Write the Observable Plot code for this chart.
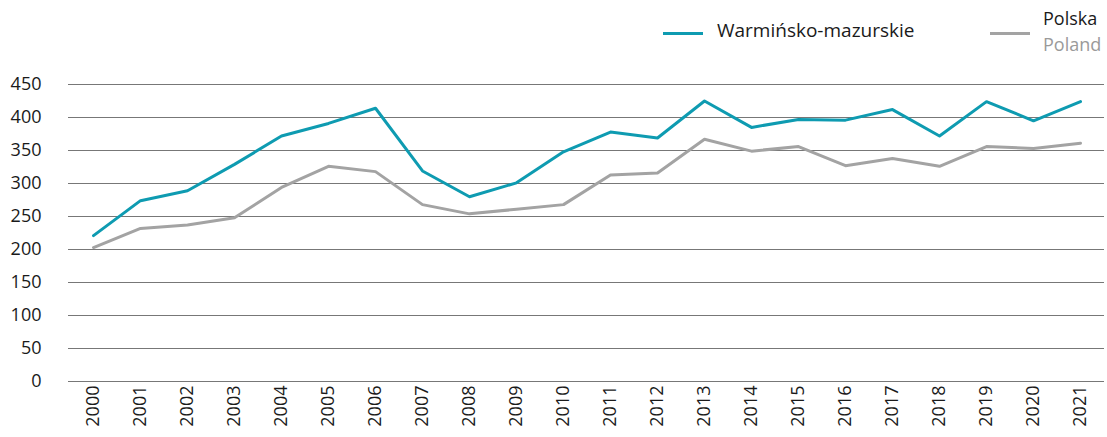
<!DOCTYPE html>
<html>
<head>
<meta charset="utf-8">
<script src="https://cdn.jsdelivr.net/npm/d3@7"></script>
<script src="https://cdn.jsdelivr.net/npm/@observablehq/plot@0.6"></script>
<style>
  body { margin: 0; background: #fff; font-family: "Open Sans", sans-serif; }
  #wrap { position: relative; width: 1107px; height: 437px; }
  #legend { position: absolute; top: 0; left: 0; width: 1107px; height: 70px; font-size: 19px; color: #1a1a1a; }
  .sw { position: absolute; height: 3px; width: 40px; }
  .lab { position: absolute; line-height: 1; white-space: nowrap; }
  #chart { position: absolute; top: 0; left: 0; }
</style>
</head>
<body>
<div id="wrap">
  <div id="chart"></div>
  <div id="legend">
    <div class="sw" style="left:663px; top:32px; background:#0e9bb1"></div>
    <div class="lab" style="left:717px; top:21px;">Warmińsko-mazurskie</div>
    <div class="sw" style="left:990px; top:32px; background:#a3a3a3"></div>
    <div class="lab" style="left:1043px; top:9px; font-size:18px;">Polska</div>
    <div class="lab" style="left:1043px; top:35px; font-size:18px; color:#9a9a9a;">Poland</div>
  </div>
</div>
<script>
const years = ["2000","2001","2002","2003","2004","2005","2006","2007","2008","2009","2010","2011","2012","2013","2014","2015","2016","2017","2018","2019","2020","2021"];
const warminsko = [221,274,289,329,372,391,414,319,280,301,348,378,369,425,385,397,396,412,372,424,395,424];
const polska = [203,232,237,248,294,326,318,268,254,261,268,313,316,367,349,356,327,338,326,356,353,361];
const yTicks = [0,50,100,150,200,250,300,350,400,450];

const rows = [];
years.forEach((y, i) => {
  rows.push({year: y, value: warminsko[i], series: "Warmińsko-mazurskie"});
  rows.push({year: y, value: polska[i], series: "Polska"});
});

const chart = Plot.plot({
  width: 1107,
  height: 437,
  marginTop: 84,
  marginBottom: 56,
  marginLeft: 68,
  marginRight: 3,
  style: {fontFamily: "'Open Sans', sans-serif", fontSize: "18px", color: "#1a1a1a", background: "transparent"},
  x: {type: "point", domain: years, padding: 0.5},
  y: {domain: [0, 450]},
  marks: [
    Plot.gridY(yTicks, {stroke: "#777", strokeOpacity: 1, strokeWidth: 1.2}),
    Plot.axisY(yTicks, {tickSize: 0, tickPadding: 27, fontSize: 18, label: null}),
    Plot.axisX({tickSize: 0, tickPadding: 4, tickRotate: -90, fontSize: 18, label: null}),
    Plot.lineY(rows.filter(d => d.series === "Polska"), {x: "year", y: "value", stroke: "#a3a3a3", strokeWidth: 3}),
    Plot.lineY(rows.filter(d => d.series !== "Polska"), {x: "year", y: "value", stroke: "#0e9bb1", strokeWidth: 3})
  ]
});
document.getElementById("chart").appendChild(chart);
</script>
</body>
</html>
